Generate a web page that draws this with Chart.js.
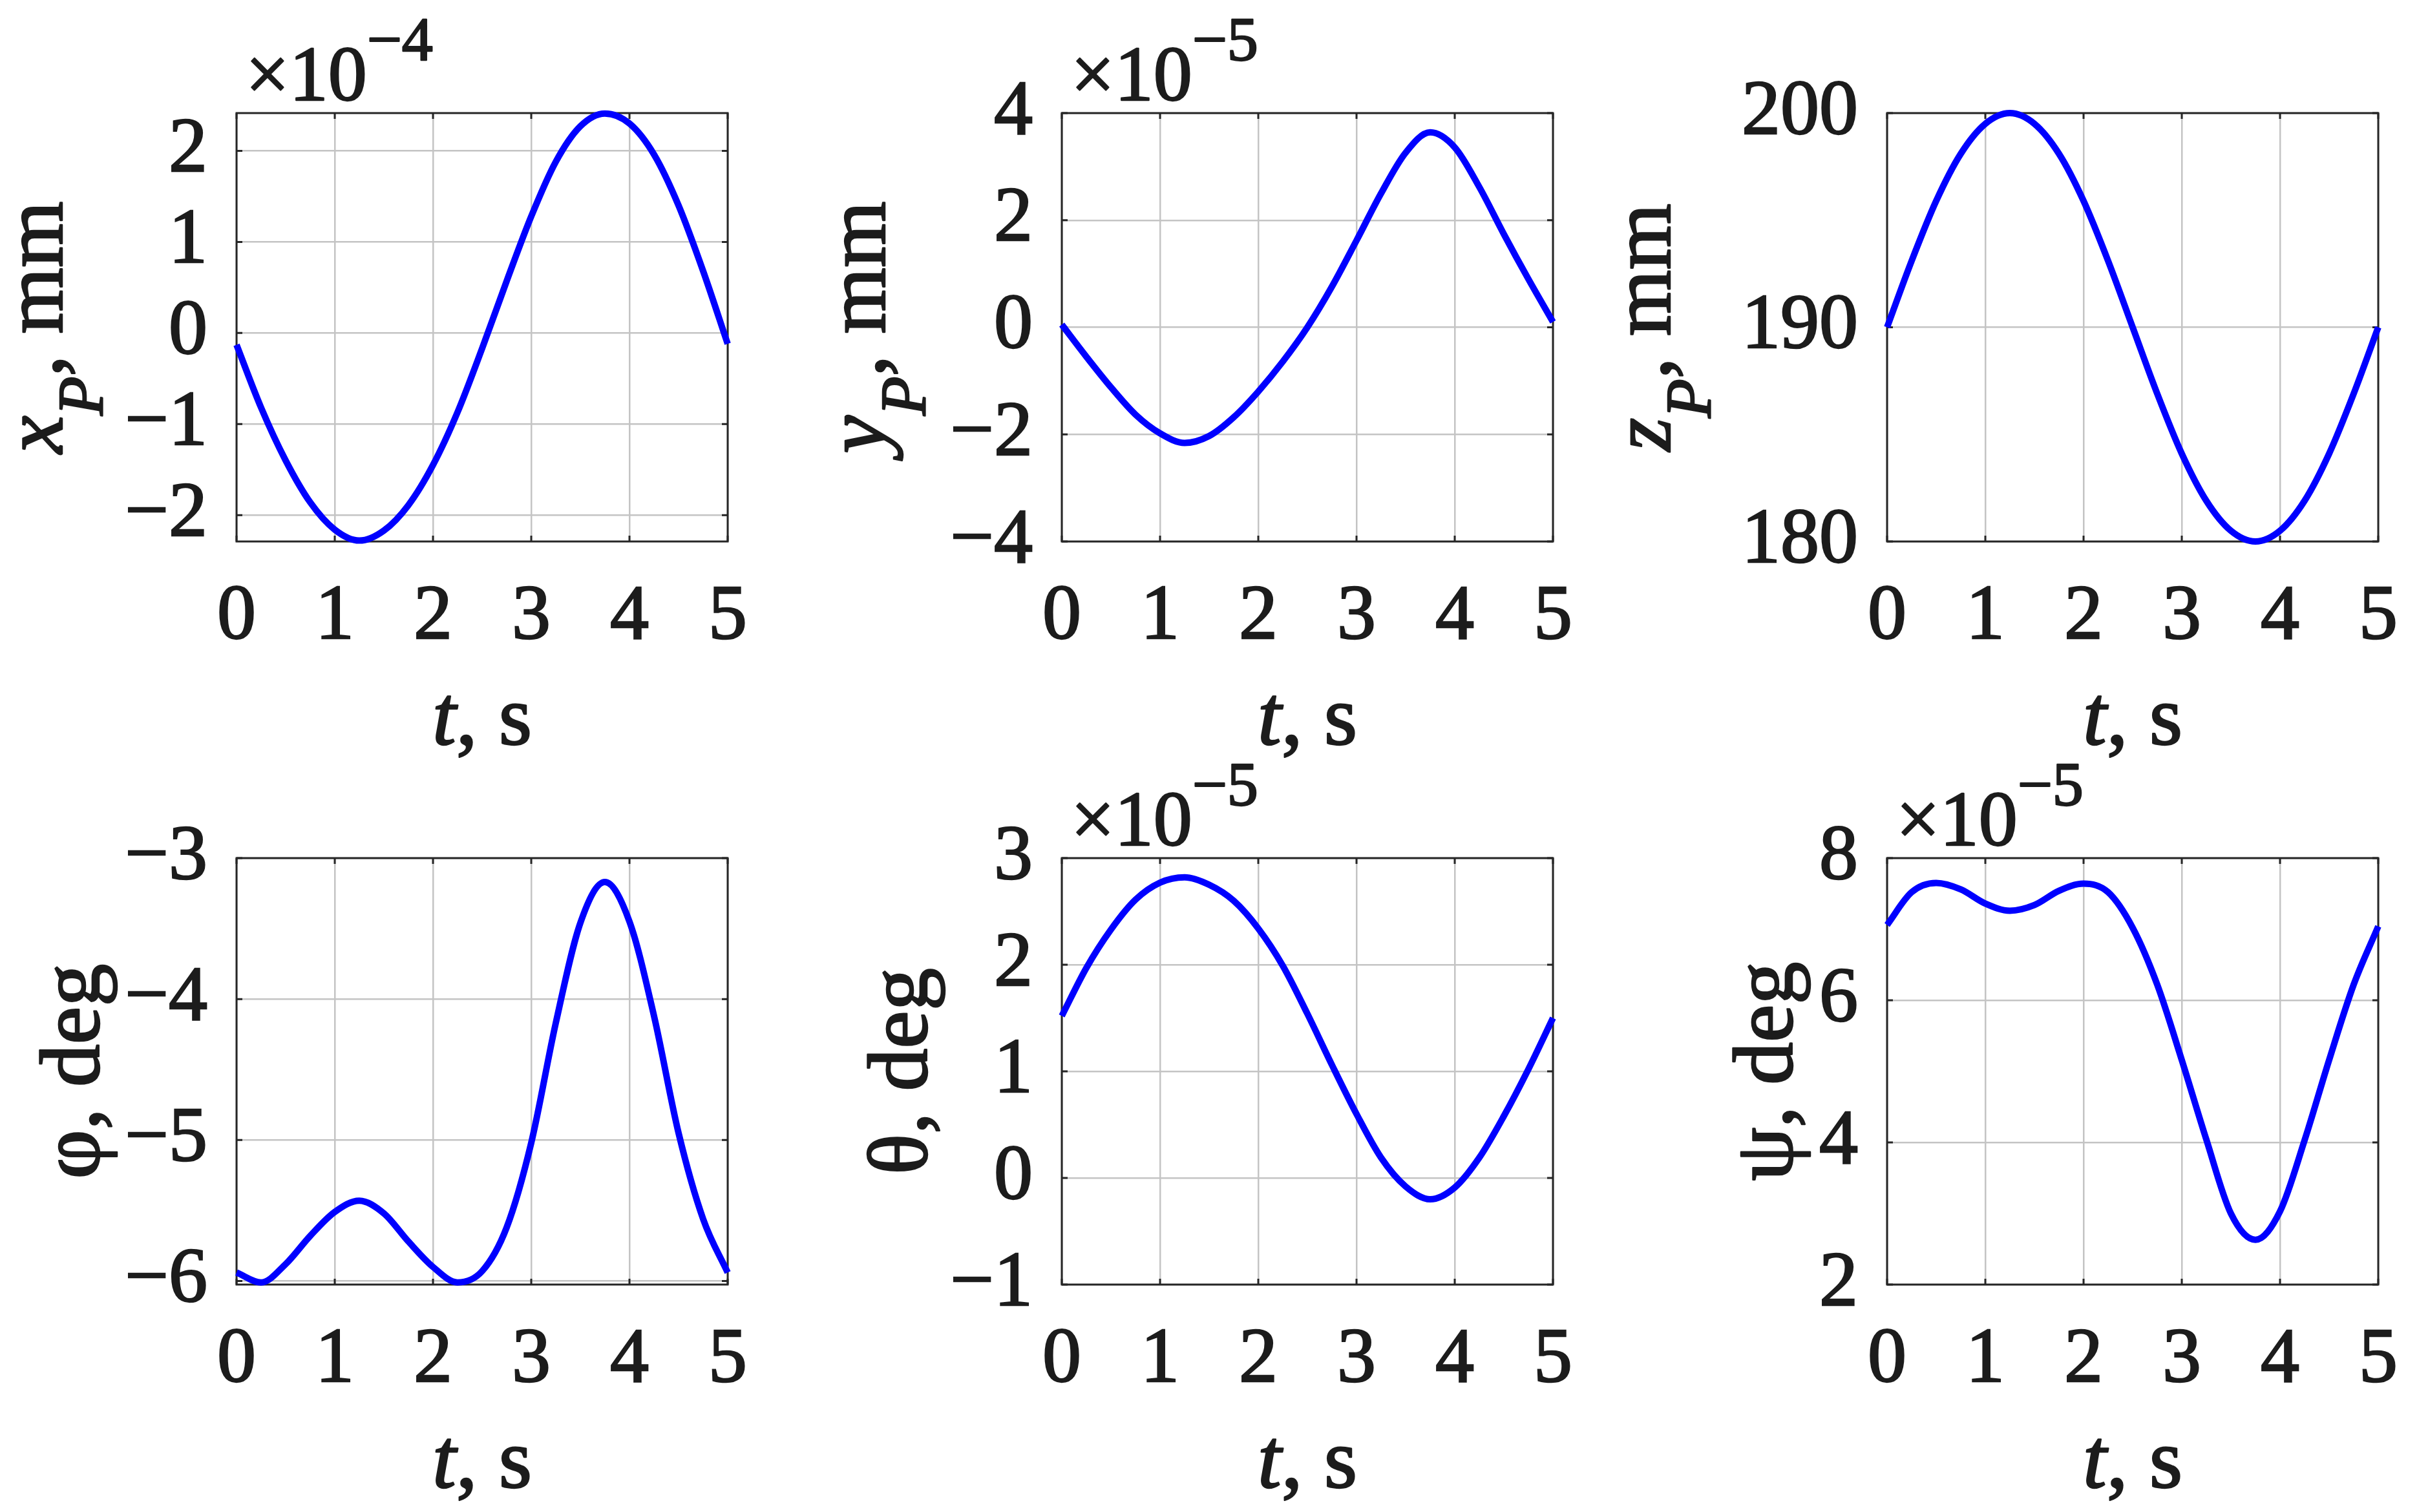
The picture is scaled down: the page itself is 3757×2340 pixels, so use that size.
<!DOCTYPE html>
<html lang="en">
<head>
<meta charset="UTF-8">
<title>Platform motion</title>
<script src="https://cdn.jsdelivr.net/npm/chart.js"></script>
<style>
  html, body { margin: 0; padding: 0; background: #fff; overflow: hidden; }
  #page { position: relative; width: 3757px; height: 2340px; overflow: hidden; }
  #page canvas { position: absolute; }
</style>
</head>
<body>
<div id="page"></div>
<script>
// time axis, s
const timeS = [0, 0.25, 0.5, 0.75, 1, 1.25, 1.5, 1.75, 2, 2.25, 2.5, 2.75, 3, 3.25, 3.5, 3.75, 4, 4.25, 4.5, 4.75, 5];

// series, in the units shown on each axis (x_P is x1e-4, y_P/theta/psi are x1e-5)
const xP    = [-0.13, -0.82, -1.40, -1.86, -2.16, -2.28, -2.17, -1.89, -1.45, -0.87, -0.17, 0.57, 1.28, 1.88, 2.27, 2.41, 2.30, 1.96, 1.40, 0.68, -0.12];
const yP    = [0.05, -0.55, -1.12, -1.63, -1.98, -2.16, -2.03, -1.68, -1.20, -0.64, 0.00, 0.76, 1.62, 2.50, 3.26, 3.64, 3.36, 2.62, 1.74, 0.90, 0.10];
const zP    = [190.0, 193.1, 195.9, 198.1, 199.5, 200.0, 199.5, 198.1, 195.9, 193.1, 190.0, 186.9, 184.1, 181.9, 180.5, 180.0, 180.5, 181.9, 184.1, 186.9, 190.0];
const phi   = [-5.94, -6.01, -5.88, -5.68, -5.51, -5.43, -5.52, -5.72, -5.90, -6.01, -5.93, -5.62, -5.02, -4.17, -3.46, -3.17, -3.45, -4.12, -4.95, -5.56, -5.94];
const theta = [1.52, 1.97, 2.33, 2.61, 2.77, 2.82, 2.75, 2.60, 2.34, 1.99, 1.54, 1.06, 0.60, 0.19, -0.08, -0.20, -0.09, 0.19, 0.58, 1.02, 1.50];
const psi   = [7.06, 7.52, 7.65, 7.56, 7.36, 7.26, 7.34, 7.54, 7.64, 7.52, 7.02, 6.22, 5.16, 4.04, 3.00, 2.63, 3.03, 4.03, 5.16, 6.22, 7.04];

// tick labels
const xTickValues = [0, 1, 2, 3, 4, 5];
const xPTicks    = [-2, -1, 0, 1, 2];
const yPTicks    = [-4, -2, 0, 2, 4];
const zPTicks    = [180, 190, 200];
const phiTicks   = [-6, -5, -4, -3];
const thetaTicks = [-1, 0, 1, 2, 3];
const psiTicks   = [2, 4, 6, 8];

// layout (px)
const FONT = '"Liberation Serif", "Times New Roman", serif';
const TICK_SIZE = 120, LABEL_SIZE = 132;
const INK = '#1c1c1c';
const STROKE = 2.5;
const L = 460, T = 200, R = 77, B = 352;
const cols = [366, 1643, 2920];
const rows = [{ top: 175, h: 663 }, { top: 1328, h: 660 }];
const plotW = 760;

const panels = [
  { data: xP,    col: 0, row: 0, min: -2.29,  max: 2.415, ticks: xPTicks,    exp: '\u22124', dx: -270,
    label: [{ t: 'x', i: true }, { t: 'P', i: true, sub: true }, { t: ', mm' }] },
  { data: yP,    col: 1, row: 0, min: -4,     max: 4,     ticks: yPTicks,    exp: '\u22125', dx: -274,
    label: [{ t: 'y', i: true }, { t: 'P', i: true, sub: true }, { t: ', mm' }] },
  { data: zP,    col: 2, row: 0, min: 180,    max: 200,   ticks: zPTicks,    exp: null,      dx: -336,
    label: [{ t: 'z', i: true }, { t: 'P', i: true, sub: true }, { t: ', mm' }] },
  { data: phi,   col: 0, row: 1, min: -6.025, max: -3,    ticks: phiTicks,   exp: null,      dx: -213,
    label: [{ t: '\u03c6, deg' }] },
  { data: theta, col: 1, row: 1, min: -1,     max: 3,     ticks: thetaTicks, exp: '\u22125', dx: -209,
    label: [{ t: '\u03b8, deg' }] },
  { data: psi,   col: 2, row: 1, min: 2,      max: 8,     ticks: psiTicks,   exp: '\u22125', dx: -147,
    label: [{ t: '\u03c8, deg' }] }
];

function fmt(v) {
  return String(v).replace('-', '\u2212');
}

// draw a run of text pieces with their own style, left or centered
function drawParts(ctx, parts, x, y, align) {
  let total = 0;
  const items = parts.map(p => {
    const size = p.size || (p.sub ? Math.round(LABEL_SIZE * 0.75) : LABEL_SIZE);
    const font = (p.i ? 'italic ' : '') + size + 'px ' + FONT;
    ctx.font = font;
    const w = ctx.measureText(p.t).width;
    total += w;
    return { p, font, w };
  });
  let cx = align === 'center' ? x - total / 2 : x;
  items.forEach(it => {
    ctx.font = it.font;
    const dy = it.p.dy !== undefined ? it.p.dy : (it.p.sub ? 62 : 0);
    ctx.fillText(it.p.t, cx, y + dy);
    ctx.strokeText(it.p.t, cx, y + dy);
    cx += it.w;
  });
}

const frame = {
  id: 'frame',
  beforeDatasetsDraw(chart) {
    const { ctx, chartArea: a, scales } = chart;
    ctx.save();
    ctx.strokeStyle = '#262626';
    ctx.lineWidth = 3;
    // inner tick marks on all four sides
    ctx.beginPath();
    xTickValues.forEach(v => {
      const px = scales.x.getPixelForValue(v);
      ctx.moveTo(px, a.bottom); ctx.lineTo(px, a.bottom - 9);
      ctx.moveTo(px, a.top); ctx.lineTo(px, a.top + 9);
    });
    scales.y.ticks.forEach(t => {
      const py = scales.y.getPixelForValue(t.value);
      ctx.moveTo(a.left, py); ctx.lineTo(a.left + 9, py);
      ctx.moveTo(a.right, py); ctx.lineTo(a.right - 9, py);
    });
    ctx.stroke();
    ctx.strokeRect(a.left, a.top, a.right - a.left, a.bottom - a.top);
    ctx.restore();
  },
  afterDraw(chart, args, opts) {
    const { ctx, chartArea: a } = chart;
    ctx.save();
    ctx.fillStyle = INK;
    ctx.strokeStyle = INK;
    ctx.lineWidth = STROKE;
    ctx.lineJoin = 'round';
    ctx.textBaseline = 'alphabetic';
    ctx.textAlign = 'left';
    // exponent above the axes
    if (opts.exp) {
      drawParts(ctx, [{ t: '\u00d710', size: TICK_SIZE, dy: 0 }, { t: opts.exp, size: 96, dy: -62 }],
        a.left + 14, a.top - 20, 'left');
    }
    // x title
    drawParts(ctx, [{ t: 't', i: true }, { t: ', s' }], (a.left + a.right) / 2, a.bottom + 314, 'center');
    // y title, rotated
    ctx.translate(a.left + opts.dx, (a.top + a.bottom) / 2);
    ctx.rotate(-Math.PI / 2);
    drawParts(ctx, opts.label, 0, 0, 'center');
    ctx.restore();
  }
};

const page = document.getElementById('page');

panels.forEach(p => {
  const row = rows[p.row];
  const W = L + plotW + R;
  const H = T + row.h + B;
  const canvas = document.createElement('canvas');
  canvas.width = W;
  canvas.height = H;
  canvas.style.width = W + 'px';
  canvas.style.height = H + 'px';
  canvas.style.left = (cols[p.col] - L) + 'px';
  canvas.style.top = (row.top - T) + 'px';
  page.appendChild(canvas);

  const tickFont = { family: FONT, size: TICK_SIZE };
  const tickOpts = {
    font: tickFont,
    color: INK,
    textStrokeColor: INK,
    textStrokeWidth: STROKE,
    autoSkip: false,
    callback: v => fmt(v)
  };

  new Chart(canvas.getContext('2d'), {
    type: 'line',
    data: {
      datasets: [{
        data: timeS.map((t, i) => ({ x: t, y: p.data[i] })),
        borderColor: '#0000ff',
        borderWidth: 10,
        pointRadius: 0,
        cubicInterpolationMode: 'monotone',
        clip: false
      }]
    },
    options: {
      responsive: false,
      animation: false,
      layout: { padding: { top: T, right: R, left: 0, bottom: 0 } },
      plugins: {
        legend: { display: false },
        tooltip: { enabled: false },
        frame: { exp: p.exp, label: p.label, dx: p.dx }
      },
      scales: {
        x: {
          type: 'linear',
          min: 0,
          max: 5,
          afterBuildTicks: s => { s.ticks = xTickValues.map(v => ({ value: v })); },
          afterFit: s => { s.height = B; },
          grid: { color: '#c4c4c4', lineWidth: 2.5, drawTicks: false },
          border: { display: false },
          ticks: Object.assign({ padding: 46, maxRotation: 0 }, tickOpts)
        },
        y: {
          type: 'linear',
          min: p.min,
          max: p.max,
          afterBuildTicks: s => { s.ticks = p.ticks.map(v => ({ value: v })); },
          afterFit: s => { s.width = L; },
          grid: { color: '#c4c4c4', lineWidth: 2.5, drawTicks: false },
          border: { display: false },
          ticks: Object.assign({ padding: 45 }, tickOpts)
        }
      }
    },
    plugins: [frame]
  });
});
</script>
</body>
</html>
